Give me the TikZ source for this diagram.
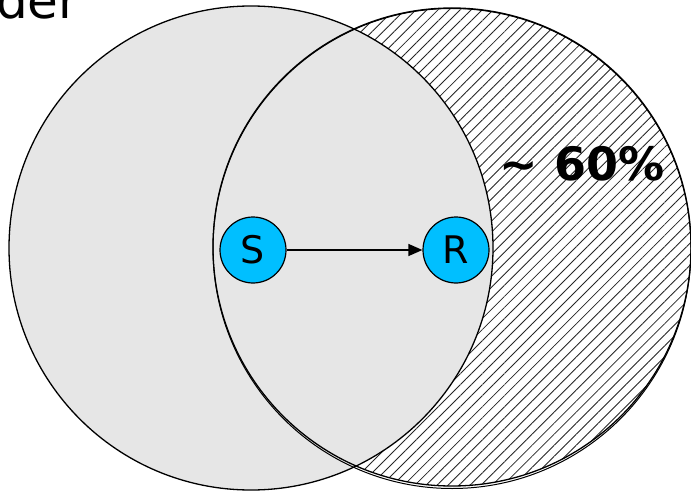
\documentclass[tikz,border=0pt]{standalone}
\usepackage{fontspec}
\setmainfont{DejaVu Sans}
\usetikzlibrary{patterns.meta,arrows.meta}
\definecolor{lgray}{HTML}{E6E6E6}
\definecolor{nodeblue}{HTML}{00BFFF}
\tikzset{
  station/.style={circle,draw=black,line width=1.2pt,fill=nodeblue,minimum size=66pt,inner sep=0pt,font=\fontsize{38}{40}\selectfont},
  rim/.style={draw=black,line width=1.3pt},
}
\begin{document}
\begin{tikzpicture}[x=1pt,y=-1pt]
\useasboundingbox (0,0) rectangle (691,492);
% hatched right range
\fill[white] (452,247) circle[radius=239pt];
\fill[pattern={Lines[angle=45,distance=7.8pt,line width=0.85pt]},pattern color=black!85] (452,247) circle[radius=239pt];
% grey left range
\fill[lgray] (251,248) circle[radius=242pt];
% outlines
\draw[rim] (251,248) circle[radius=242pt];
\draw[rim] (452,247) circle[radius=239pt];
\draw[draw=black,line width=1pt] (452,248.5) ellipse[x radius=239pt,y radius=240pt];
% text
\node[anchor=base west,inner sep=0pt,font=\fontsize{50}{52}\selectfont] (title) at (-4,19) {der};
\node[font=\fontsize{46}{48}\selectfont\bfseries,inner sep=0pt] (pct) at (582,164) {\char"223C\ 60\%};
% stations
\node[station] (S) at (253,250) {S};
\node[station] (R) at (456,250) {R};
\draw[line width=1.3pt,-{Triangle[length=14pt,width=12pt]}] (S) -- (R);
\end{tikzpicture}
\end{document}
